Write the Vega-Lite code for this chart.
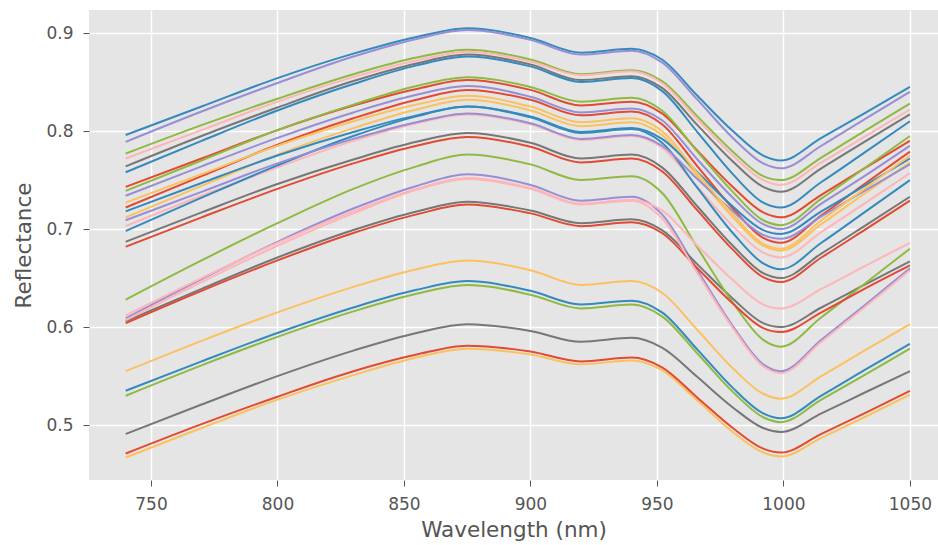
{
"$schema": "https://vega.github.io/schema/vega-lite/v6.json",
"width": 849, "height": 470,
"autosize": "none",
"padding": {"left": 89, "top": 10, "right": 0, "bottom": 65},
"background": "white",
"config": {
  "font": "DejaVu Sans",
  "view": {"fill": "#E5E5E5", "stroke": null},
  "axis": {"domain": false, "grid": true, "gridColor": "#FFFFFF", "gridWidth": 1.5, "tickColor": "#555555", "tickSize": 6, "tickWidth": 1, "labelColor": "#555555", "labelFontSize": 17, "titleColor": "#555555", "titleFontSize": 21.5, "titleFontWeight": "normal"},
  "axisX": {"labelPadding": 10, "titlePadding": 7},
  "axisY": {"labelPadding": 10, "titlePadding": 10}
},
"data": {"values": [
{"s":"s00","w":740,"r":0.743},{"s":"s00","w":770,"r":0.772},{"s":"s00","w":800,"r":0.801},{"s":"s00","w":830,"r":0.826},{"s":"s00","w":855,"r":0.843},{"s":"s00","w":875,"r":0.852},{"s":"s00","w":900,"r":0.842},{"s":"s00","w":920,"r":0.826},{"s":"s00","w":940,"r":0.830},{"s":"s00","w":952,"r":0.818},{"s":"s00","w":966,"r":0.780},{"s":"s00","w":980,"r":0.743},{"s":"s00","w":992,"r":0.717},{"s":"s00","w":999,"r":0.712},{"s":"s00","w":1015,"r":0.735},{"s":"s00","w":1032,"r":0.762},{"s":"s00","w":1050,"r":0.790},
{"s":"s01","w":740,"r":0.796},{"s":"s01","w":770,"r":0.825},{"s":"s01","w":800,"r":0.854},{"s":"s01","w":830,"r":0.879},{"s":"s01","w":855,"r":0.896},{"s":"s01","w":875,"r":0.905},{"s":"s01","w":900,"r":0.895},{"s":"s01","w":920,"r":0.880},{"s":"s01","w":940,"r":0.884},{"s":"s01","w":952,"r":0.873},{"s":"s01","w":966,"r":0.836},{"s":"s01","w":980,"r":0.800},{"s":"s01","w":992,"r":0.775},{"s":"s01","w":999,"r":0.770},{"s":"s01","w":1015,"r":0.793},{"s":"s01","w":1032,"r":0.818},{"s":"s01","w":1050,"r":0.845},
{"s":"s02","w":740,"r":0.789},{"s":"s02","w":770,"r":0.820},{"s":"s02","w":800,"r":0.849},{"s":"s02","w":830,"r":0.876},{"s":"s02","w":855,"r":0.894},{"s":"s02","w":875,"r":0.903},{"s":"s02","w":900,"r":0.893},{"s":"s02","w":920,"r":0.878},{"s":"s02","w":940,"r":0.882},{"s":"s02","w":952,"r":0.870},{"s":"s02","w":966,"r":0.832},{"s":"s02","w":980,"r":0.793},{"s":"s02","w":992,"r":0.767},{"s":"s02","w":999,"r":0.762},{"s":"s02","w":1015,"r":0.785},{"s":"s02","w":1032,"r":0.812},{"s":"s02","w":1050,"r":0.840},
{"s":"s03","w":740,"r":0.764},{"s":"s03","w":770,"r":0.795},{"s":"s03","w":800,"r":0.824},{"s":"s03","w":830,"r":0.851},{"s":"s03","w":855,"r":0.869},{"s":"s03","w":875,"r":0.878},{"s":"s03","w":900,"r":0.868},{"s":"s03","w":920,"r":0.852},{"s":"s03","w":940,"r":0.856},{"s":"s03","w":952,"r":0.844},{"s":"s03","w":966,"r":0.806},{"s":"s03","w":980,"r":0.769},{"s":"s03","w":992,"r":0.743},{"s":"s03","w":999,"r":0.738},{"s":"s03","w":1015,"r":0.762},{"s":"s03","w":1032,"r":0.789},{"s":"s03","w":1050,"r":0.817},
{"s":"s04","w":740,"r":0.712},{"s":"s04","w":770,"r":0.744},{"s":"s04","w":800,"r":0.776},{"s":"s04","w":830,"r":0.803},{"s":"s04","w":855,"r":0.822},{"s":"s04","w":875,"r":0.832},{"s":"s04","w":900,"r":0.821},{"s":"s04","w":920,"r":0.805},{"s":"s04","w":940,"r":0.809},{"s":"s04","w":952,"r":0.796},{"s":"s04","w":966,"r":0.754},{"s":"s04","w":980,"r":0.712},{"s":"s04","w":992,"r":0.683},{"s":"s04","w":999,"r":0.678},{"s":"s04","w":1015,"r":0.705},{"s":"s04","w":1032,"r":0.736},{"s":"s04","w":1050,"r":0.768},
{"s":"s05","w":740,"r":0.777},{"s":"s05","w":770,"r":0.806},{"s":"s05","w":800,"r":0.833},{"s":"s05","w":830,"r":0.858},{"s":"s05","w":855,"r":0.875},{"s":"s05","w":875,"r":0.883},{"s":"s05","w":900,"r":0.873},{"s":"s05","w":920,"r":0.858},{"s":"s05","w":940,"r":0.862},{"s":"s05","w":952,"r":0.851},{"s":"s05","w":966,"r":0.815},{"s":"s05","w":980,"r":0.779},{"s":"s05","w":992,"r":0.754},{"s":"s05","w":999,"r":0.750},{"s":"s05","w":1015,"r":0.773},{"s":"s05","w":1032,"r":0.800},{"s":"s05","w":1050,"r":0.828},
{"s":"s06","w":740,"r":0.772},{"s":"s06","w":770,"r":0.801},{"s":"s06","w":800,"r":0.830},{"s":"s06","w":830,"r":0.855},{"s":"s06","w":855,"r":0.872},{"s":"s06","w":875,"r":0.881},{"s":"s06","w":900,"r":0.871},{"s":"s06","w":920,"r":0.857},{"s":"s06","w":940,"r":0.861},{"s":"s06","w":952,"r":0.849},{"s":"s06","w":966,"r":0.812},{"s":"s06","w":980,"r":0.775},{"s":"s06","w":992,"r":0.750},{"s":"s06","w":999,"r":0.745},{"s":"s06","w":1015,"r":0.768},{"s":"s06","w":1032,"r":0.794},{"s":"s06","w":1050,"r":0.822},
{"s":"s07","w":740,"r":0.722},{"s":"s07","w":770,"r":0.754},{"s":"s07","w":800,"r":0.786},{"s":"s07","w":830,"r":0.813},{"s":"s07","w":855,"r":0.832},{"s":"s07","w":875,"r":0.842},{"s":"s07","w":900,"r":0.832},{"s":"s07","w":920,"r":0.816},{"s":"s07","w":940,"r":0.820},{"s":"s07","w":952,"r":0.807},{"s":"s07","w":966,"r":0.764},{"s":"s07","w":980,"r":0.721},{"s":"s07","w":992,"r":0.691},{"s":"s07","w":999,"r":0.686},{"s":"s07","w":1015,"r":0.714},{"s":"s07","w":1032,"r":0.746},{"s":"s07","w":1050,"r":0.779},
{"s":"s08","w":740,"r":0.758},{"s":"s08","w":770,"r":0.790},{"s":"s08","w":800,"r":0.821},{"s":"s08","w":830,"r":0.848},{"s":"s08","w":855,"r":0.867},{"s":"s08","w":875,"r":0.876},{"s":"s08","w":900,"r":0.866},{"s":"s08","w":920,"r":0.850},{"s":"s08","w":940,"r":0.854},{"s":"s08","w":952,"r":0.841},{"s":"s08","w":966,"r":0.799},{"s":"s08","w":980,"r":0.756},{"s":"s08","w":992,"r":0.727},{"s":"s08","w":999,"r":0.722},{"s":"s08","w":1015,"r":0.748},{"s":"s08","w":1032,"r":0.778},{"s":"s08","w":1050,"r":0.810},
{"s":"s09","w":740,"r":0.734},{"s":"s09","w":770,"r":0.764},{"s":"s09","w":800,"r":0.793},{"s":"s09","w":830,"r":0.819},{"s":"s09","w":855,"r":0.837},{"s":"s09","w":875,"r":0.846},{"s":"s09","w":900,"r":0.835},{"s":"s09","w":920,"r":0.819},{"s":"s09","w":940,"r":0.823},{"s":"s09","w":952,"r":0.811},{"s":"s09","w":966,"r":0.771},{"s":"s09","w":980,"r":0.732},{"s":"s09","w":992,"r":0.705},{"s":"s09","w":999,"r":0.700},{"s":"s09","w":1015,"r":0.726},{"s":"s09","w":1032,"r":0.754},{"s":"s09","w":1050,"r":0.785},
{"s":"s10","w":740,"r":0.687},{"s":"s10","w":770,"r":0.717},{"s":"s10","w":800,"r":0.746},{"s":"s10","w":830,"r":0.771},{"s":"s10","w":855,"r":0.789},{"s":"s10","w":875,"r":0.798},{"s":"s10","w":900,"r":0.788},{"s":"s10","w":920,"r":0.772},{"s":"s10","w":940,"r":0.776},{"s":"s10","w":952,"r":0.763},{"s":"s10","w":966,"r":0.723},{"s":"s10","w":980,"r":0.683},{"s":"s10","w":992,"r":0.655},{"s":"s10","w":999,"r":0.650},{"s":"s10","w":1015,"r":0.675},{"s":"s10","w":1032,"r":0.703},{"s":"s10","w":1050,"r":0.733},
{"s":"s11","w":740,"r":0.555},{"s":"s11","w":770,"r":0.586},{"s":"s11","w":800,"r":0.615},{"s":"s11","w":830,"r":0.641},{"s":"s11","w":855,"r":0.659},{"s":"s11","w":875,"r":0.668},{"s":"s11","w":900,"r":0.658},{"s":"s11","w":920,"r":0.643},{"s":"s11","w":940,"r":0.647},{"s":"s11","w":952,"r":0.635},{"s":"s11","w":966,"r":0.597},{"s":"s11","w":980,"r":0.558},{"s":"s11","w":992,"r":0.532},{"s":"s11","w":999,"r":0.527},{"s":"s11","w":1015,"r":0.550},{"s":"s11","w":1032,"r":0.576},{"s":"s11","w":1050,"r":0.603},
{"s":"s12","w":740,"r":0.739},{"s":"s12","w":770,"r":0.770},{"s":"s12","w":800,"r":0.801},{"s":"s12","w":830,"r":0.827},{"s":"s12","w":855,"r":0.846},{"s":"s12","w":875,"r":0.855},{"s":"s12","w":900,"r":0.845},{"s":"s12","w":920,"r":0.830},{"s":"s12","w":940,"r":0.834},{"s":"s12","w":952,"r":0.821},{"s":"s12","w":966,"r":0.779},{"s":"s12","w":980,"r":0.738},{"s":"s12","w":992,"r":0.709},{"s":"s12","w":999,"r":0.704},{"s":"s12","w":1015,"r":0.731},{"s":"s12","w":1032,"r":0.762},{"s":"s12","w":1050,"r":0.795},
{"s":"s13","w":740,"r":0.703},{"s":"s13","w":770,"r":0.734},{"s":"s13","w":800,"r":0.763},{"s":"s13","w":830,"r":0.790},{"s":"s13","w":855,"r":0.808},{"s":"s13","w":875,"r":0.817},{"s":"s13","w":900,"r":0.807},{"s":"s13","w":920,"r":0.791},{"s":"s13","w":940,"r":0.795},{"s":"s13","w":952,"r":0.783},{"s":"s13","w":966,"r":0.743},{"s":"s13","w":980,"r":0.703},{"s":"s13","w":992,"r":0.676},{"s":"s13","w":999,"r":0.671},{"s":"s13","w":1015,"r":0.697},{"s":"s13","w":1032,"r":0.726},{"s":"s13","w":1050,"r":0.757},
{"s":"s14","w":740,"r":0.682},{"s":"s14","w":770,"r":0.712},{"s":"s14","w":800,"r":0.741},{"s":"s14","w":830,"r":0.767},{"s":"s14","w":855,"r":0.785},{"s":"s14","w":875,"r":0.794},{"s":"s14","w":900,"r":0.784},{"s":"s14","w":920,"r":0.768},{"s":"s14","w":940,"r":0.772},{"s":"s14","w":952,"r":0.759},{"s":"s14","w":966,"r":0.719},{"s":"s14","w":980,"r":0.679},{"s":"s14","w":992,"r":0.651},{"s":"s14","w":999,"r":0.646},{"s":"s14","w":1015,"r":0.671},{"s":"s14","w":1032,"r":0.699},{"s":"s14","w":1050,"r":0.729},
{"s":"s15","w":740,"r":0.718},{"s":"s15","w":770,"r":0.747},{"s":"s15","w":800,"r":0.775},{"s":"s15","w":830,"r":0.799},{"s":"s15","w":855,"r":0.816},{"s":"s15","w":875,"r":0.825},{"s":"s15","w":900,"r":0.815},{"s":"s15","w":920,"r":0.799},{"s":"s15","w":940,"r":0.803},{"s":"s15","w":952,"r":0.792},{"s":"s15","w":966,"r":0.758},{"s":"s15","w":980,"r":0.723},{"s":"s15","w":992,"r":0.699},{"s":"s15","w":999,"r":0.695},{"s":"s15","w":1015,"r":0.718},{"s":"s15","w":1032,"r":0.744},{"s":"s15","w":1050,"r":0.772},
{"s":"s16","w":740,"r":0.609},{"s":"s16","w":770,"r":0.649},{"s":"s16","w":800,"r":0.687},{"s":"s16","w":830,"r":0.721},{"s":"s16","w":855,"r":0.744},{"s":"s16","w":875,"r":0.756},{"s":"s16","w":900,"r":0.745},{"s":"s16","w":920,"r":0.729},{"s":"s16","w":940,"r":0.733},{"s":"s16","w":952,"r":0.715},{"s":"s16","w":966,"r":0.658},{"s":"s16","w":980,"r":0.601},{"s":"s16","w":992,"r":0.562},{"s":"s16","w":999,"r":0.555},{"s":"s16","w":1015,"r":0.587},{"s":"s16","w":1032,"r":0.622},{"s":"s16","w":1050,"r":0.660},
{"s":"s17","w":740,"r":0.606},{"s":"s17","w":770,"r":0.639},{"s":"s17","w":800,"r":0.671},{"s":"s17","w":830,"r":0.699},{"s":"s17","w":855,"r":0.718},{"s":"s17","w":875,"r":0.728},{"s":"s17","w":900,"r":0.719},{"s":"s17","w":920,"r":0.706},{"s":"s17","w":940,"r":0.710},{"s":"s17","w":952,"r":0.699},{"s":"s17","w":966,"r":0.664},{"s":"s17","w":980,"r":0.629},{"s":"s17","w":992,"r":0.604},{"s":"s17","w":999,"r":0.600},{"s":"s17","w":1015,"r":0.620},{"s":"s17","w":1032,"r":0.643},{"s":"s17","w":1050,"r":0.667},
{"s":"s18","w":740,"r":0.467},{"s":"s18","w":770,"r":0.497},{"s":"s18","w":800,"r":0.526},{"s":"s18","w":830,"r":0.551},{"s":"s18","w":855,"r":0.569},{"s":"s18","w":875,"r":0.578},{"s":"s18","w":900,"r":0.572},{"s":"s18","w":920,"r":0.562},{"s":"s18","w":940,"r":0.566},{"s":"s18","w":952,"r":0.556},{"s":"s18","w":966,"r":0.525},{"s":"s18","w":980,"r":0.493},{"s":"s18","w":992,"r":0.472},{"s":"s18","w":999,"r":0.468},{"s":"s18","w":1015,"r":0.487},{"s":"s18","w":1032,"r":0.508},{"s":"s18","w":1050,"r":0.531},
{"s":"s19","w":740,"r":0.628},{"s":"s19","w":770,"r":0.668},{"s":"s19","w":800,"r":0.706},{"s":"s19","w":830,"r":0.741},{"s":"s19","w":855,"r":0.764},{"s":"s19","w":875,"r":0.776},{"s":"s19","w":900,"r":0.766},{"s":"s19","w":920,"r":0.750},{"s":"s19","w":940,"r":0.754},{"s":"s19","w":952,"r":0.737},{"s":"s19","w":966,"r":0.681},{"s":"s19","w":980,"r":0.625},{"s":"s19","w":992,"r":0.587},{"s":"s19","w":999,"r":0.580},{"s":"s19","w":1015,"r":0.610},{"s":"s19","w":1032,"r":0.644},{"s":"s19","w":1050,"r":0.680},
{"s":"s20","w":740,"r":0.612},{"s":"s20","w":770,"r":0.650},{"s":"s20","w":800,"r":0.686},{"s":"s20","w":830,"r":0.718},{"s":"s20","w":855,"r":0.741},{"s":"s20","w":875,"r":0.752},{"s":"s20","w":900,"r":0.742},{"s":"s20","w":920,"r":0.726},{"s":"s20","w":940,"r":0.730},{"s":"s20","w":952,"r":0.719},{"s":"s20","w":966,"r":0.683},{"s":"s20","w":980,"r":0.648},{"s":"s20","w":992,"r":0.623},{"s":"s20","w":999,"r":0.619},{"s":"s20","w":1015,"r":0.639},{"s":"s20","w":1032,"r":0.662},{"s":"s20","w":1050,"r":0.686},
{"s":"s21","w":740,"r":0.604},{"s":"s21","w":770,"r":0.637},{"s":"s21","w":800,"r":0.668},{"s":"s21","w":830,"r":0.696},{"s":"s21","w":855,"r":0.715},{"s":"s21","w":875,"r":0.725},{"s":"s21","w":900,"r":0.716},{"s":"s21","w":920,"r":0.703},{"s":"s21","w":940,"r":0.707},{"s":"s21","w":952,"r":0.696},{"s":"s21","w":966,"r":0.660},{"s":"s21","w":980,"r":0.624},{"s":"s21","w":992,"r":0.599},{"s":"s21","w":999,"r":0.595},{"s":"s21","w":1015,"r":0.615},{"s":"s21","w":1032,"r":0.639},{"s":"s21","w":1050,"r":0.663},
{"s":"s22","w":740,"r":0.698},{"s":"s22","w":770,"r":0.732},{"s":"s22","w":800,"r":0.765},{"s":"s22","w":830,"r":0.795},{"s":"s22","w":855,"r":0.815},{"s":"s22","w":875,"r":0.825},{"s":"s22","w":900,"r":0.814},{"s":"s22","w":920,"r":0.798},{"s":"s22","w":940,"r":0.802},{"s":"s22","w":952,"r":0.788},{"s":"s22","w":966,"r":0.742},{"s":"s22","w":980,"r":0.696},{"s":"s22","w":992,"r":0.665},{"s":"s22","w":999,"r":0.659},{"s":"s22","w":1015,"r":0.686},{"s":"s22","w":1032,"r":0.717},{"s":"s22","w":1050,"r":0.750},
{"s":"s23","w":740,"r":0.709},{"s":"s23","w":770,"r":0.738},{"s":"s23","w":800,"r":0.767},{"s":"s23","w":830,"r":0.792},{"s":"s23","w":855,"r":0.809},{"s":"s23","w":875,"r":0.818},{"s":"s23","w":900,"r":0.808},{"s":"s23","w":920,"r":0.792},{"s":"s23","w":940,"r":0.796},{"s":"s23","w":952,"r":0.785},{"s":"s23","w":966,"r":0.751},{"s":"s23","w":980,"r":0.718},{"s":"s23","w":992,"r":0.694},{"s":"s23","w":999,"r":0.690},{"s":"s23","w":1015,"r":0.713},{"s":"s23","w":1032,"r":0.739},{"s":"s23","w":1050,"r":0.766},
{"s":"s24","w":740,"r":0.491},{"s":"s24","w":770,"r":0.521},{"s":"s24","w":800,"r":0.550},{"s":"s24","w":830,"r":0.576},{"s":"s24","w":855,"r":0.594},{"s":"s24","w":875,"r":0.603},{"s":"s24","w":900,"r":0.596},{"s":"s24","w":920,"r":0.585},{"s":"s24","w":940,"r":0.589},{"s":"s24","w":952,"r":0.579},{"s":"s24","w":966,"r":0.549},{"s":"s24","w":980,"r":0.518},{"s":"s24","w":992,"r":0.497},{"s":"s24","w":999,"r":0.493},{"s":"s24","w":1015,"r":0.512},{"s":"s24","w":1032,"r":0.533},{"s":"s24","w":1050,"r":0.555},
{"s":"s25","w":740,"r":0.727},{"s":"s25","w":770,"r":0.756},{"s":"s25","w":800,"r":0.785},{"s":"s25","w":830,"r":0.810},{"s":"s25","w":855,"r":0.827},{"s":"s25","w":875,"r":0.836},{"s":"s25","w":900,"r":0.825},{"s":"s25","w":920,"r":0.809},{"s":"s25","w":940,"r":0.813},{"s":"s25","w":952,"r":0.800},{"s":"s25","w":966,"r":0.757},{"s":"s25","w":980,"r":0.715},{"s":"s25","w":992,"r":0.685},{"s":"s25","w":999,"r":0.680},{"s":"s25","w":1015,"r":0.709},{"s":"s25","w":1032,"r":0.741},{"s":"s25","w":1050,"r":0.775},
{"s":"s26","w":740,"r":0.530},{"s":"s26","w":770,"r":0.561},{"s":"s26","w":800,"r":0.590},{"s":"s26","w":830,"r":0.616},{"s":"s26","w":855,"r":0.634},{"s":"s26","w":875,"r":0.643},{"s":"s26","w":900,"r":0.633},{"s":"s26","w":920,"r":0.619},{"s":"s26","w":940,"r":0.623},{"s":"s26","w":952,"r":0.611},{"s":"s26","w":966,"r":0.573},{"s":"s26","w":980,"r":0.534},{"s":"s26","w":992,"r":0.508},{"s":"s26","w":999,"r":0.503},{"s":"s26","w":1015,"r":0.526},{"s":"s26","w":1032,"r":0.551},{"s":"s26","w":1050,"r":0.578},
{"s":"s27","w":740,"r":0.607},{"s":"s27","w":770,"r":0.646},{"s":"s27","w":800,"r":0.683},{"s":"s27","w":830,"r":0.716},{"s":"s27","w":855,"r":0.740},{"s":"s27","w":875,"r":0.751},{"s":"s27","w":900,"r":0.741},{"s":"s27","w":920,"r":0.725},{"s":"s27","w":940,"r":0.729},{"s":"s27","w":952,"r":0.711},{"s":"s27","w":966,"r":0.655},{"s":"s27","w":980,"r":0.599},{"s":"s27","w":992,"r":0.560},{"s":"s27","w":999,"r":0.553},{"s":"s27","w":1015,"r":0.585},{"s":"s27","w":1032,"r":0.620},{"s":"s27","w":1050,"r":0.658},
{"s":"s28","w":740,"r":0.471},{"s":"s28","w":770,"r":0.501},{"s":"s28","w":800,"r":0.529},{"s":"s28","w":830,"r":0.555},{"s":"s28","w":855,"r":0.572},{"s":"s28","w":875,"r":0.581},{"s":"s28","w":900,"r":0.575},{"s":"s28","w":920,"r":0.565},{"s":"s28","w":940,"r":0.569},{"s":"s28","w":952,"r":0.559},{"s":"s28","w":966,"r":0.528},{"s":"s28","w":980,"r":0.497},{"s":"s28","w":992,"r":0.476},{"s":"s28","w":999,"r":0.472},{"s":"s28","w":1015,"r":0.491},{"s":"s28","w":1032,"r":0.512},{"s":"s28","w":1050,"r":0.535},
{"s":"s29","w":740,"r":0.535},{"s":"s29","w":770,"r":0.565},{"s":"s29","w":800,"r":0.594},{"s":"s29","w":830,"r":0.620},{"s":"s29","w":855,"r":0.638},{"s":"s29","w":875,"r":0.647},{"s":"s29","w":900,"r":0.637},{"s":"s29","w":920,"r":0.623},{"s":"s29","w":940,"r":0.627},{"s":"s29","w":952,"r":0.615},{"s":"s29","w":966,"r":0.577},{"s":"s29","w":980,"r":0.538},{"s":"s29","w":992,"r":0.512},{"s":"s29","w":999,"r":0.507},{"s":"s29","w":1015,"r":0.530},{"s":"s29","w":1032,"r":0.556},{"s":"s29","w":1050,"r":0.583}
]},
"mark": {"type": "line", "strokeWidth": 2, "interpolate": "monotone", "clip": true},
"encoding": {
  "x": {"field": "w", "type": "quantitative", "scale": {"domain": [725.5, 1061.1], "nice": false, "zero": false}, "axis": {"values": [750, 800, 850, 900, 950, 1000, 1050], "format": "d", "title": "Wavelength (nm)"}},
  "y": {"field": "r", "type": "quantitative", "scale": {"domain": [0.444, 0.9235], "nice": false, "zero": false}, "axis": {"values": [0.5, 0.6, 0.7, 0.8, 0.9], "format": ".1f", "title": "Reflectance"}},
  "color": {"field": "s", "type": "nominal", "legend": null, "scale": {"range": ["#E24A33","#348ABD","#988ED5","#777777","#FBC15E","#8EBA42","#FFB5B8","#E24A33","#348ABD","#988ED5","#777777","#FBC15E","#8EBA42","#FFB5B8","#E24A33","#348ABD","#988ED5","#777777","#FBC15E","#8EBA42","#FFB5B8","#E24A33","#348ABD","#988ED5","#777777","#FBC15E","#8EBA42","#FFB5B8","#E24A33","#348ABD"]}}
}
}
